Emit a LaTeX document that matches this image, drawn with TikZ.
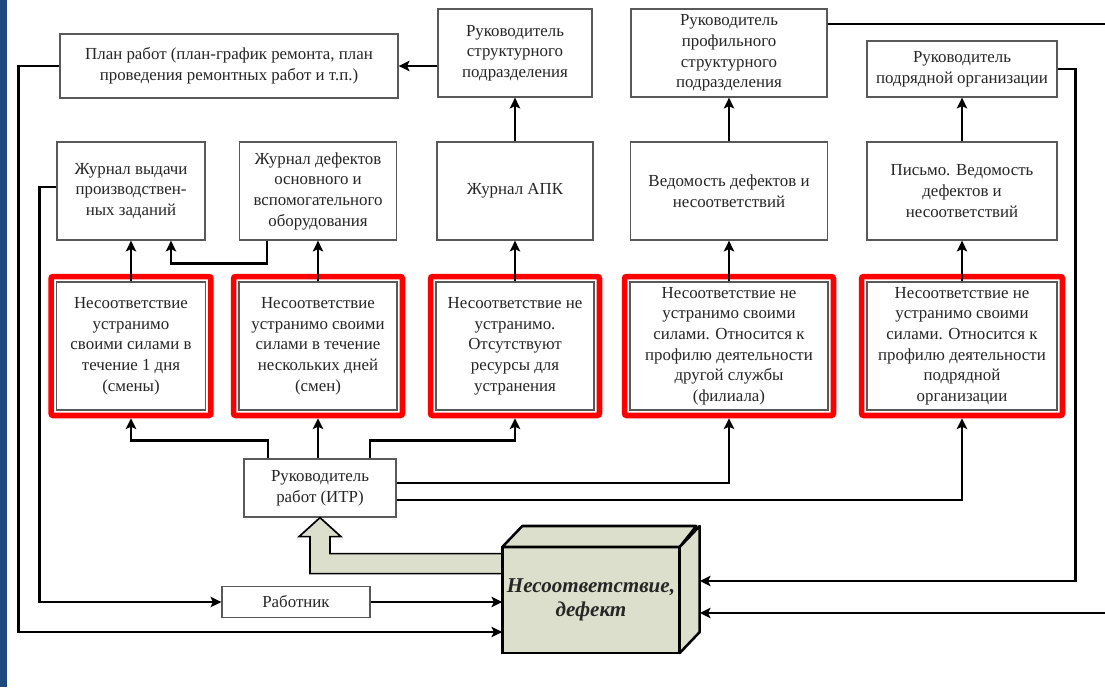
\documentclass[tikz,border=0pt]{standalone}
\usepackage{fontspec}
\setmainfont{Liberation Serif}
\usetikzlibrary{arrows.meta,calc,fit}
\definecolor{defcol}{RGB}{220,223,203}
\definecolor{barblue}{RGB}{31,74,125}

\begin{document}
\begin{tikzpicture}[x=0.025cm,y=-0.025cm,
  box/.style={draw=black!65,line width=0.9pt,fill=white,align=center,inner sep=1pt,text=black!85,font=\fontsize{12}{14.7}\selectfont},
  redframe/.style={draw=red,line width=4pt,rounded corners=1.5pt,inner sep=3.4pt},
  conn/.style={line width=2pt},
  arr/.style={conn,-{Stealth[length=2.7mm,width=2.6mm,inset=0.6mm]}}]
\useasboundingbox (0,0) rectangle (1105,687);
\fill[barblue] (0,0) rectangle (7,687);

\node[box,minimum width=8.45cm,minimum height=1.6cm] (plan) at (229,66) {План работ (план-график ремонта, план\\проведения ремонтных работ и т.п.)};
\node[box,minimum width=3.85cm,minimum height=2.2cm] (r1) at (515,53) {Руководитель\\структурного\\подразделения};
\node[box,minimum width=4.9cm,minimum height=2.2cm] (r2) at (729,53) {Руководитель\\профильного\\структурного\\подразделения};
\node[box,minimum width=4.75cm,minimum height=1.4cm] (r3) at (962,69) {Руководитель\\подрядной организации};

\node[box,minimum width=3.7cm,minimum height=2.45cm] (j1) at (131,191) {Журнал выдачи\\производствен-\\ных заданий};
\node[box,minimum width=3.925cm,minimum height=2.45cm] (j2) at (318,191) {Журнал дефектов\\основного и\\вспомогательного\\оборудования};
\node[box,minimum width=3.9cm,minimum height=2.45cm] (j3) at (515,191) {Журнал АПК};
\node[box,minimum width=4.925cm,minimum height=2.45cm] (j4) at (729,191) {Ведомость дефектов и\\несоответствий};
\node[box,minimum width=4.75cm,minimum height=2.45cm] (j5) at (962,191) {Письмо. Ведомость\\дефектов и\\несоответствий};

\node[box,minimum width=3.725cm,minimum height=3.2cm] (n1) at (131,346) {Несоответствие\\устранимо\\своими силами в\\течение 1 дня\\(смены)};
\node[box,minimum width=3.95cm,minimum height=3.2cm] (n2) at (318,346) {Несоответствие\\устранимо своими\\силами в течение\\нескольких дней\\(смен)};
\node[box,minimum width=3.95cm,minimum height=3.2cm] (n3) at (515,346) {Несоответствие не\\устранимо.\\Отсутствуют\\ресурсы для\\устранения};
\node[box,minimum width=4.95cm,minimum height=3.2cm] (n4) at (729,346) {Несоответствие не\\устранимо своими\\силами. Относится к\\профилю деятельности\\другой службы\\(филиала)};
\node[box,minimum width=4.75cm,minimum height=3.2cm] (n5) at (962,346) {Несоответствие не\\устранимо своими\\силами. Относится к\\профилю деятельности\\подрядной\\организации};
\node[redframe,fit=(n1)] (f1) {};
\node[redframe,fit=(n2)] (f2) {};
\node[redframe,fit=(n3)] (f3) {};
\node[redframe,fit=(n4)] (f4) {};
\node[redframe,fit=(n5)] (f5) {};

\node[box,minimum width=3.8cm,minimum height=1.45cm] (itr) at (320,488) {Руководитель\\работ (ИТР)};
\node[box,minimum width=3.7cm,minimum height=0.775cm] (rab) at (296,602) {Работник};

\draw[line width=1.2pt,fill=defcol] (itr.south) -- ++(21,19) -- ++(-11,0) |- ($(itr.south)+(194,36)$) -- ++(0,20) -| ($(itr.south)+(-10,19)$) -- ++(-11,0) -- cycle;
\node[draw,line width=1.8pt,fill=defcol,outer sep=0pt,minimum width=4.35cm,minimum height=2.65cm,align=center,text=black!85,font=\fontsize{15}{17.5}\selectfont\bfseries\itshape] (def) at (591,600) {Несоответствие,\\дефект};
\draw[line width=1.8pt,fill=defcol,line join=round] (def.north west) -- ++(20,-21) -- ++(174,0) -- (def.north east) -- cycle;
\draw[line width=1.8pt,fill=defcol,line join=round] (def.north east) -- ++(20,-21) -- ++(0,106) -- (def.south east) -- cycle;

\draw[arr] ($(itr.north)+(-52,0)$) -- ++(0,-18) -| (f1.south);
\draw[arr] (itr.north -| f2.south) -- (f2.south);
\draw[arr] ($(itr.north)+(50,0)$) -- ++(0,-18) -| (f3.south);
\draw[arr] ($(itr.east)+(0,-5)$) -| (f4.south);
\draw[arr] ($(itr.east)+(0,12)$) -| (f5.south);

\draw[arr] (n1) -- (j1);
\draw[arr] (n2) -- (j2);
\draw[arr] (n3) -- (j3);
\draw[arr] (n4) -- (j4);
\draw[arr] (n5) -- (j5);
\draw[arr] ($(j2.south)+(-51,0)$) -- ++(0,23) -| ($(j1.south)+(40,0)$);

\draw[arr] (j3) -- (r1);
\draw[arr] (j4) -- (r2);
\draw[arr] (j5) -- (r3);
\draw[arr] (r1.west |- plan.east) -- (plan.east);

\coordinate (topout) at (1105,24);
\coordinate (botout) at (1105,613);
\draw[conn] ($(r2.east)+(0,-29)$) -- (topout);
\draw[arr] (r3.east) -- ++(18,0) |- ($(def.east)+(20,-19)$);
\draw[arr] (botout) -- ($(def.east)+(20,13)$);

\draw[arr] (rab) -- (rab -| def.west);
\draw[arr] ($(j1.west)+(0,-4)$) -- ++(-17,0) |- (rab.west);
\draw[arr] (plan.west) -- ++(-41,0) |- ($(def.west)+(0,32)$);
\end{tikzpicture}
\end{document}
